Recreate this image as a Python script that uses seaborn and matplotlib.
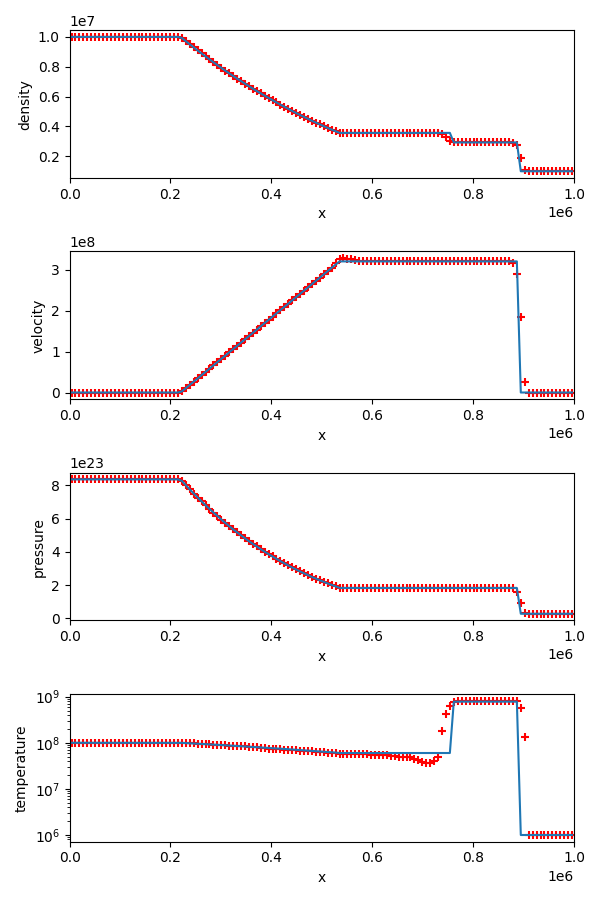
import numpy as np
import matplotlib
matplotlib.use("Agg")
import matplotlib.pyplot as plt
import seaborn as sns

# --- Data ---
# 128 zone centres on [0, 1e6]
n_zones = 128
x = (np.arange(n_zones) + 0.5) * 1.0e6 / n_zones

# rarefaction fan, zones 28..67 (exact solution)
rare_dens = [0.993, 0.971, 0.950, 0.930, 0.909, 0.889, 0.869, 0.850, 0.830, 0.811,
             0.793, 0.774, 0.756, 0.738, 0.721, 0.704, 0.687, 0.670, 0.654, 0.637,
             0.622, 0.606, 0.591, 0.576, 0.561, 0.546, 0.532, 0.518, 0.504, 0.490,
             0.477, 0.464, 0.451, 0.438, 0.426, 0.414, 0.402, 0.390, 0.379, 0.368]
rare_vel = [0.027, 0.107, 0.186, 0.266, 0.346, 0.425, 0.505, 0.584, 0.664, 0.743,
            0.823, 0.903, 0.983, 1.062, 1.142, 1.221, 1.301, 1.381, 1.460, 1.540,
            1.619, 1.699, 1.779, 1.858, 1.938, 2.017, 2.097, 2.177, 2.256, 2.336,
            2.416, 2.495, 2.575, 2.654, 2.734, 2.814, 2.893, 2.973, 3.052, 3.132]
rare_pres = [8.26, 8.00, 7.75, 7.50, 7.26, 7.03, 6.80, 6.58, 6.36, 6.15,
             5.94, 5.74, 5.54, 5.35, 5.17, 4.99, 4.81, 4.64, 4.48, 4.32,
             4.16, 4.01, 3.86, 3.72, 3.58, 3.44, 3.31, 3.18, 3.06, 2.94,
             2.82, 2.71, 2.60, 2.49, 2.39, 2.29, 2.20, 2.10, 2.01, 1.93]
rare_temp = [9.96, 9.86, 9.75, 9.65, 9.54, 9.44, 9.34, 9.23, 9.13, 9.03,
             8.92, 8.82, 8.72, 8.62, 8.52, 8.42, 8.32, 8.22, 8.12, 8.02,
             7.92, 7.82, 7.73, 7.63, 7.53, 7.44, 7.34, 7.24, 7.15, 7.05,
             6.96, 6.86, 6.77, 6.68, 6.58, 6.49, 6.40, 6.31, 6.22, 6.13]
rare_temp_sim = [9.96, 9.86, 9.75, 9.65, 9.54, 9.44, 9.34, 9.23, 9.13, 9.03,
                 8.92, 8.82, 8.72, 8.62, 8.52, 8.42, 8.32, 8.22, 8.12, 8.02,
                 7.68, 7.59, 7.50, 7.40, 7.30, 7.22, 7.12, 7.02, 6.94, 6.84,
                 6.75, 6.65, 6.57, 6.48, 6.38, 6.30, 6.21, 6.12, 6.03, 5.95]

# density [1e7 g/cc]
dens_exact = [1.0] * 28 + rare_dens + [0.357] * 29 + [0.293] * 17 + [0.1] * 14
dens_sim = ([1.0] * 28 + rare_dens + [0.357] * 26 + [0.347, 0.327, 0.303]
            + [0.293] * 15 + [0.29, 0.274, 0.19, 0.11] + [0.1] * 12)

# velocity [1e8 cm/s]
vel_exact = [0.0] * 28 + rare_vel + [3.21] * 46 + [0.0] * 14
vel_sim = ([0.0] * 28 + rare_vel[:-1] + [3.18] + [3.28, 3.29, 3.28, 3.26, 3.24]
           + [3.21] * 39 + [3.17, 2.91, 1.85, 0.25] + [0.0] * 12)

# pressure [1e23 erg/cc]
pres_exact = [8.35] * 28 + rare_pres + [1.83] * 46 + [0.28] * 14
pres_sim = ([8.35] * 28 + rare_pres + [1.83] * 44
            + [1.80, 1.57, 0.91, 0.34] + [0.28] * 12)

# temperature [1e7 K]
temp_exact = [10.0] * 28 + rare_temp + [6.0] * 29 + [78.0] * 17 + [0.1] * 14
temp_sim = ([10.0] * 28 + rare_temp_sim
            + [5.8] * 4 + [5.6] * 4 + [5.4] * 5 + [5.2] * 2 + [5.0] * 2 + [4.8] * 2
            + [4.5, 4.2, 3.9, 3.6, 3.6, 4.1, 5.0]
            + [18.0, 42.0, 62.0, 75.0]
            + [82.0] * 16 + [57.0, 13.3] + [0.1] * 12)

panels = [
    ("density", np.array(dens_exact) * 1e7, np.array(dens_sim) * 1e7, False),
    ("velocity", np.array(vel_exact) * 1e8, np.array(vel_sim) * 1e8, False),
    ("pressure", np.array(pres_exact) * 1e23, np.array(pres_sim) * 1e23, False),
    ("temperature", np.array(temp_exact) * 1e7, np.array(temp_sim) * 1e7, True),
]

fig, axes = plt.subplots(4, 1, figsize=(6, 9))

for ax, (name, exact, sim, logy) in zip(axes, panels):
    sns.scatterplot(x=x, y=sim, marker="+", color="red", s=36,
                    linewidth=1.5, ax=ax)
    sns.lineplot(x=x, y=exact, color="C0", ax=ax)
    if logy:
        ax.set_yscale("log")
    ax.set_xlim(0, 1.0e6)
    ax.set_xlabel("x")
    ax.set_ylabel(name)

plt.tight_layout()
plt.savefig("out.png", dpi=100)
plt.close()
